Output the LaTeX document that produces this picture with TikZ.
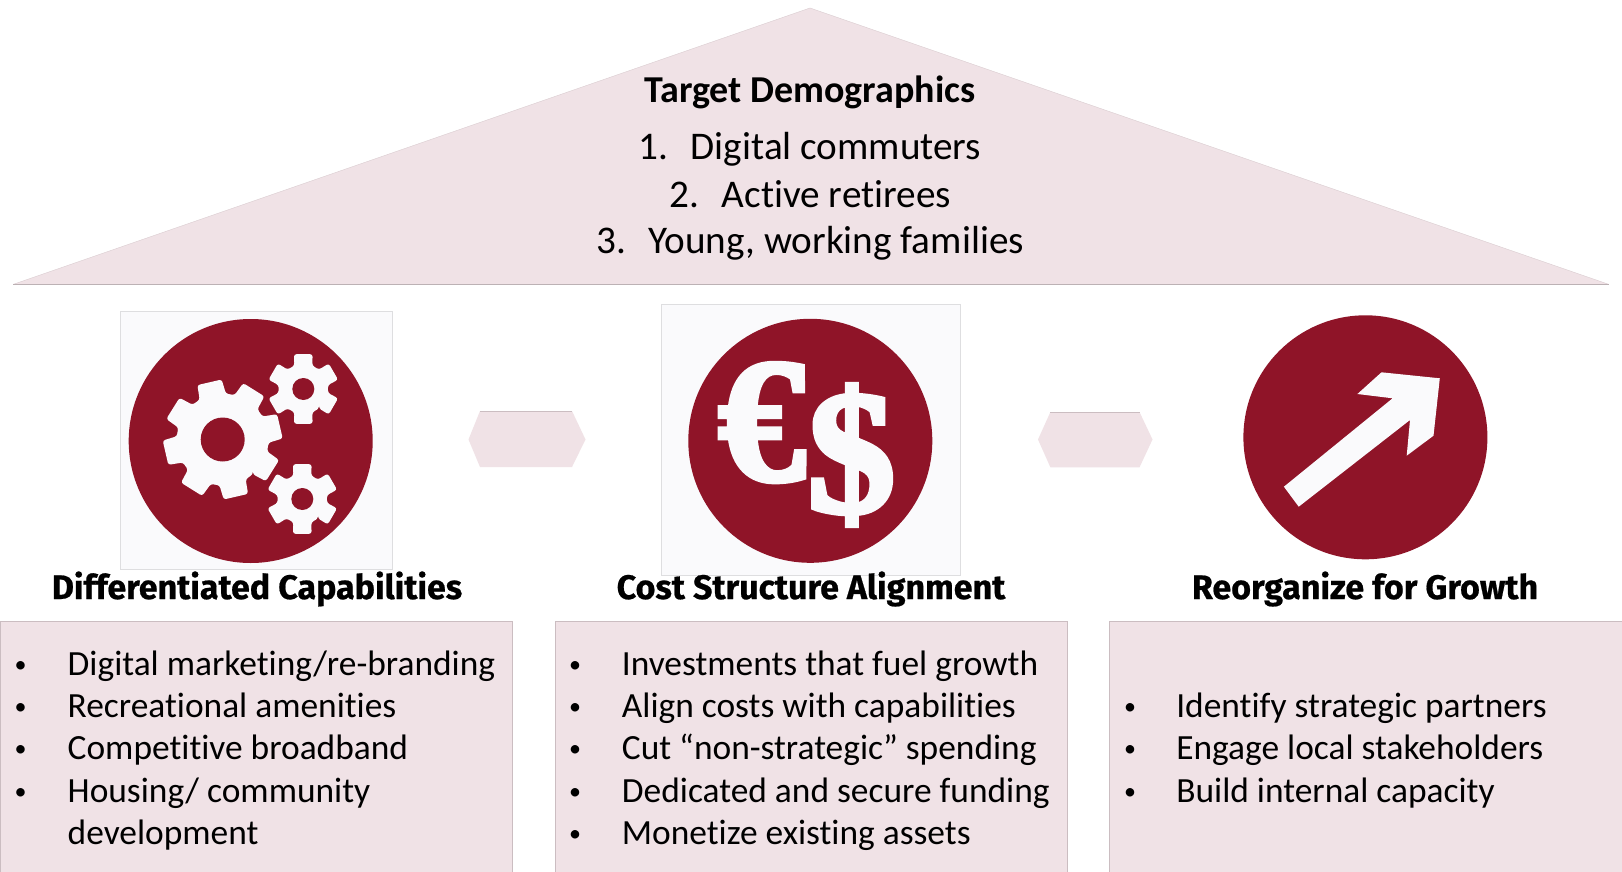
\documentclass[tikz,border=0pt]{standalone}
\usepackage{fontspec}
\setmainfont{Carlito}[Ligatures=CommonOff]
\newfontfamily\headfont{Fira Sans}[UprightFont=* Bold,Ligatures=CommonOff,FakeBold=0.6]
\newfontfamily\iconfont{Liberation Serif}[UprightFont=* Bold,FakeBold=3]
\definecolor{panelpink}{HTML}{F0E2E6}
\definecolor{panelline}{HTML}{CBBDC1}
\definecolor{iconred}{HTML}{8F1428}
\definecolor{iconback}{HTML}{FAFAFC}
\definecolor{iconedge}{HTML}{DEDEE0}
\tikzset{
  every node/.style={inner sep=0pt,outer sep=0pt,text=black},
  panel/.style={fill=panelpink,draw=panelline,line width=0.8pt},
  bodytext/.style={anchor=base west,font=\fontsize{35.4}{40}\selectfont},
  bullettext/.style={anchor=base,yshift=3pt,font=\fontsize{24}{28}\selectfont},
  headtext/.style={anchor=base,font=\headfont\fontsize{34}{38}\selectfont},
  toptext/.style={anchor=base west,font=\fontsize{39.2}{44}\selectfont},
  iconbox/.style={fill=iconback,draw=iconedge,line width=0.6pt},
  icondisc/.style={fill=iconred},
  iconglyph/.style={anchor=base west,text=iconback,font=\iconfont\fontsize{176}{176}\selectfont}
}
% gear: cx, cy, teeth, phase, outer, root, hole, tip half angle, root half angle
\newcommand{\gearshape}[9]{%
  \begin{scope}[shift={(#1,#2)}]
    \pgfmathsetmacro{\gstep}{360/#3}
    \fill[iconback,rounded corners=2.5pt]
      (#4+#9:#6)
      \foreach \gi in {1,...,#3}{
        -- ({#4+\gi*\gstep-#9}:#6)
        -- ({#4+\gi*\gstep-#8}:#5)
        -- ({#4+\gi*\gstep+#8}:#5)
        -- ({#4+\gi*\gstep+#9}:#6)
      } -- cycle;
    \fill[icondisc] (0,0) circle[radius=#7];
  \end{scope}}
\begin{document}
\begin{tikzpicture}[x=1pt,y=-1pt]
\useasboundingbox (0,0) rectangle (1622,872);
\fill[white] (0,0) rectangle (1622,872);

% roof
\fill[panelpink] (13.4,284.3) -- (810,8) -- (1608.6,284.3) -- cycle;
\draw[panelline!60!panelpink,line width=0.4pt] (13.4,284.3) -- (810,8) -- (1608.6,284.3);
\draw[panelline!80!gray,line width=1pt] (13.4,284.3) -- (1608.6,284.3);
\node[anchor=base,font=\bfseries\fontsize{38}{44}\selectfont] (title) at (810,102.5) {Target Demographics};
\node[toptext] (t1) at (638.8,159.7) {\makebox[52pt][l]{1.}Digital commuters};
\node[toptext] (t2) at (669.8,207) {\makebox[52pt][l]{2.}Active retirees};
\node[toptext] (t3) at (596.5,253.5) {\makebox[52pt][l]{3.}Young, working families};

% icon 1: gears
\path[iconbox] (120.4,311) rectangle (392,569);
\fill[icondisc] (250.7,441) circle[radius=122];
\gearshape{222.7}{439.5}{8}{32}{60}{46}{22}{12}{17}
\gearshape{303.3}{389}{6}{30}{36}{25}{11}{15}{21}
\gearshape{302.3}{499}{6}{30}{36}{25}{11}{15}{21}

% icon 2: currency
\path[iconbox] (661.3,304.3) rectangle (960.3,575);
\fill[icondisc] (810.3,440.8) circle[radius=122];
\node[iconglyph] (euro) at (718,480) {€};
\node[iconglyph] (dollar) at (807.5,512) {\$};

% icon 3: arrow
\fill[icondisc] (1365.4,437.3) circle[radius=122];
\fill[iconback] (1283.9,486.7) -- (1298.7,506.7) -- (1410,420) -- (1406.7,455.7)
  -- (1433.5,435.7) -- (1439.8,378.3) -- (1381.5,372.3) -- (1357.4,394)
  -- (1392.6,398.3) -- cycle;

% hexagons
\fill[panelpink] (468.5,439.5) -- (480,411) -- (572,411) -- (585.5,439.5) -- (572,467) -- (480,467) -- cycle;
\draw[panelline,line width=0.6pt] (480,411) -- (572,411);
\fill[panelpink] (1038,439.5) -- (1050.4,412) -- (1139.5,412) -- (1152.5,439.5) -- (1139.5,467.3) -- (1050.4,467.3) -- cycle;
\draw[panelline,line width=0.6pt] (1050.4,412) -- (1139.5,412);

% headings
\node[headtext] (h1) at (257,599) {Differentiated Capabilities};
\node[headtext] (h2) at (811,599) {Cost Structure Alignment};
\node[headtext] (h3) at (1365,599) {Reorganize for Growth};

% panels
\path[panel] (0,621.7) rectangle (512.4,880);
\path[panel] (555.4,621.7) rectangle (1067.5,880);
\path[panel] (1109.3,621.7) rectangle (1630,880);

% panel 1
\node[bullettext] (b11) at (20.7,675) {•};
\node[bodytext] (x11) at (67.7,675) {Digital marketing/re-branding};
\node[bullettext] (b12) at (20.7,717) {•};
\node[bodytext] (x12) at (67.7,717) {Recreational amenities};
\node[bullettext] (b13) at (20.7,759.5) {•};
\node[bodytext] (x13) at (67.7,759.5) {Competitive broadband};
\node[bullettext] (b14) at (20.7,802.2) {•};
\node[bodytext] (x14) at (67.7,802.2) {Housing/ community};
\node[bodytext] (x15) at (67.7,844.6) {development};

% panel 2
\node[bullettext] (b21) at (575,675) {•};
\node[bodytext] (x21) at (621.9,675) {Investments that fuel growth};
\node[bullettext] (b22) at (575,717) {•};
\node[bodytext] (x22) at (621.9,717) {Align costs with capabilities};
\node[bullettext] (b23) at (575,759.5) {•};
\node[bodytext] (x23) at (621.9,759.5) {Cut “non-strategic” spending};
\node[bullettext] (b24) at (575,802.2) {•};
\node[bodytext] (x24) at (621.9,802.2) {Dedicated and secure funding};
\node[bullettext] (b25) at (575,844.6) {•};
\node[bodytext] (x25) at (621.9,844.6) {Monetize existing assets};

% panel 3
\node[bullettext] (b31) at (1130,717) {•};
\node[bodytext] (x31) at (1176.3,717) {Identify strategic partners};
\node[bullettext] (b32) at (1130,759.5) {•};
\node[bodytext] (x32) at (1176.3,759.5) {Engage local stakeholders};
\node[bullettext] (b33) at (1130,802.2) {•};
\node[bodytext] (x33) at (1176.3,802.2) {Build internal capacity};
\end{tikzpicture}
\end{document}
